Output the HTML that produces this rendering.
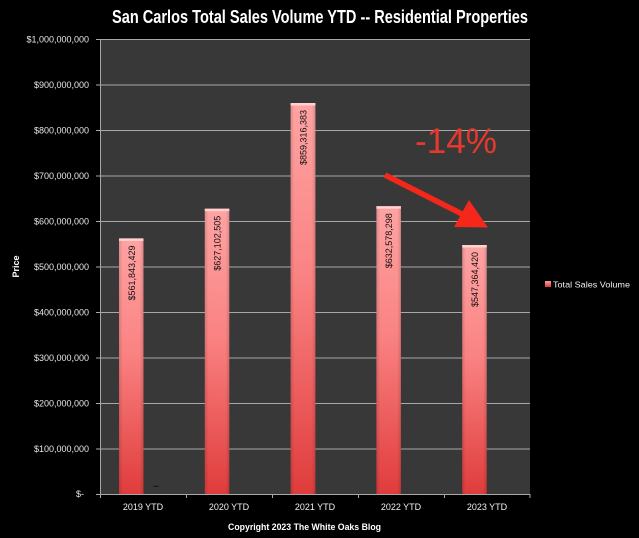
<!DOCTYPE html>
<html>
<head>
<meta charset="utf-8">
<style>
html,body{margin:0;padding:0;background:#000;}
svg{display:block;}
text{font-family:"Liberation Sans",sans-serif;}
</style>
</head>
<body>
<svg width="639" height="538" viewBox="0 0 639 538" xmlns="http://www.w3.org/2000/svg">
<defs>
<linearGradient id="bv" x1="0" y1="0" x2="0" y2="1">
<stop offset="0" stop-color="#ffa3a3"/>
<stop offset="0.45" stop-color="#fa8282"/>
<stop offset="1" stop-color="#e03c3c"/>
</linearGradient>
<linearGradient id="bh" x1="0" y1="0" x2="1" y2="0">
<stop offset="0" stop-color="#000" stop-opacity="0.14"/>
<stop offset="0.15" stop-color="#000" stop-opacity="0"/>
<stop offset="0.85" stop-color="#000" stop-opacity="0"/>
<stop offset="1" stop-color="#000" stop-opacity="0.14"/>
</linearGradient>
<linearGradient id="lg" x1="0" y1="0" x2="0" y2="1">
<stop offset="0" stop-color="#ff9c9c"/>
<stop offset="1" stop-color="#d83a3a"/>
</linearGradient>
</defs>
<rect x="0" y="0" width="639" height="538" fill="#000"/>
<!-- title -->
<text x="112" y="23" font-size="18" font-weight="bold" fill="#fff" textLength="416" lengthAdjust="spacingAndGlyphs">San Carlos Total Sales Volume YTD -- Residential Properties</text>
<!-- plot area -->
<rect x="100" y="39.3" width="430" height="454.7" fill="#383838"/>
<g stroke="#a8a8a8" stroke-width="1">
<line x1="96" y1="39.5" x2="530" y2="39.5"/>
<line x1="96" y1="85" x2="530" y2="85"/>
<line x1="96" y1="130.5" x2="530" y2="130.5"/>
<line x1="96" y1="176" x2="530" y2="176"/>
<line x1="96" y1="221.5" x2="530" y2="221.5"/>
<line x1="96" y1="267" x2="530" y2="267"/>
<line x1="96" y1="312.5" x2="530" y2="312.5"/>
<line x1="96" y1="358" x2="530" y2="358"/>
<line x1="96" y1="403.5" x2="530" y2="403.5"/>
<line x1="96" y1="449" x2="530" y2="449"/>
<line x1="96" y1="494.5" x2="530" y2="494.5"/>
<line x1="100.5" y1="39" x2="100.5" y2="494.5"/>
<line x1="100.5" y1="494" x2="100.5" y2="498"/>
<line x1="186.5" y1="494" x2="186.5" y2="498"/>
<line x1="272.5" y1="494" x2="272.5" y2="498"/>
<line x1="358.5" y1="494" x2="358.5" y2="498"/>
<line x1="444.5" y1="494" x2="444.5" y2="498"/>
<line x1="530" y1="494" x2="530" y2="498"/>
</g>
<!-- y labels -->
<g font-size="9" fill="#e6e6e6" text-anchor="end">
<text x="89" y="42.5">$1,000,000,000</text>
<text x="89" y="88">$900,000,000</text>
<text x="89" y="133.5">$800,000,000</text>
<text x="89" y="179">$700,000,000</text>
<text x="89" y="224.5">$600,000,000</text>
<text x="89" y="270">$500,000,000</text>
<text x="89" y="315.5">$400,000,000</text>
<text x="89" y="361">$300,000,000</text>
<text x="89" y="406.5">$200,000,000</text>
<text x="89" y="452">$100,000,000</text>
<text x="84" y="497">$-</text>
</g>
<text transform="translate(19,266.5) rotate(-90)" font-size="9" font-weight="bold" fill="#fff" text-anchor="middle">Price</text>
<!-- bars -->
<g>
<rect x="119" y="238.4" width="24.5" height="255.6" fill="url(#bv)"/>
<rect x="119" y="238.4" width="24.5" height="255.6" fill="url(#bh)"/>
<rect x="119" y="238.4" width="24.5" height="2.5" fill="#ffd2d2"/>
<rect x="204.8" y="208.7" width="24.5" height="285.3" fill="url(#bv)"/>
<rect x="204.8" y="208.7" width="24.5" height="285.3" fill="url(#bh)"/>
<rect x="204.8" y="208.7" width="24.5" height="2.5" fill="#ffd2d2"/>
<rect x="290.6" y="103" width="24.8" height="391" fill="url(#bv)"/>
<rect x="290.6" y="103" width="24.8" height="391" fill="url(#bh)"/>
<rect x="290.6" y="103" width="24.8" height="2.5" fill="#ffd2d2"/>
<rect x="376.4" y="206.2" width="24.5" height="287.8" fill="url(#bv)"/>
<rect x="376.4" y="206.2" width="24.5" height="287.8" fill="url(#bh)"/>
<rect x="376.4" y="206.2" width="24.5" height="2.5" fill="#ffd2d2"/>
<rect x="462.2" y="245" width="24.5" height="249" fill="url(#bv)"/>
<rect x="462.2" y="245" width="24.5" height="249" fill="url(#bh)"/>
<rect x="462.2" y="245" width="24.5" height="2.5" fill="#ffd2d2"/>
</g>
<!-- bar labels -->
<g font-size="9" fill="#111" text-anchor="end">
<text transform="translate(134.8,245.5) rotate(-90)" textLength="55" lengthAdjust="spacingAndGlyphs">$561,843,429</text>
<text transform="translate(220.6,215.7) rotate(-90)" textLength="55" lengthAdjust="spacingAndGlyphs">$627,102,505</text>
<text transform="translate(306.6,110) rotate(-90)" textLength="55" lengthAdjust="spacingAndGlyphs">$859,316,383</text>
<text transform="translate(392.2,213.2) rotate(-90)" textLength="55" lengthAdjust="spacingAndGlyphs">$632,578,298</text>
<text transform="translate(478,252) rotate(-90)" textLength="55" lengthAdjust="spacingAndGlyphs">$547,364,420</text>
</g>
<line x1="153.5" y1="486.3" x2="158.5" y2="486.3" stroke="#111" stroke-width="1"/>
<!-- x labels -->
<g font-size="9" fill="#f0f0f0" text-anchor="middle">
<text x="143" y="510">2019 YTD</text>
<text x="229" y="510">2020 YTD</text>
<text x="315" y="510">2021 YTD</text>
<text x="401" y="510">2022 YTD</text>
<text x="487" y="510">2023 YTD</text>
</g>
<text x="228" y="530" font-size="9" font-weight="bold" fill="#fff" textLength="153" lengthAdjust="spacingAndGlyphs">Copyright 2023 The White  Oaks Blog</text>
<!-- annotation -->
<text x="415" y="153" font-size="35" fill="#e8382e" textLength="82" lengthAdjust="spacingAndGlyphs">-14%</text>
<line x1="385" y1="175" x2="463" y2="214.5" stroke="#f5261a" stroke-width="5.5" stroke-linecap="butt"/>
<polygon points="488,227.5 454,227 469,200" fill="#f5261a"/>
<!-- legend -->
<rect x="545" y="281" width="6" height="6" fill="url(#lg)"/>
<text x="553" y="287.5" font-size="8.6" fill="#f0f0f0" textLength="77" lengthAdjust="spacingAndGlyphs">Total Sales Volume</text>
</svg>
</body>
</html>
